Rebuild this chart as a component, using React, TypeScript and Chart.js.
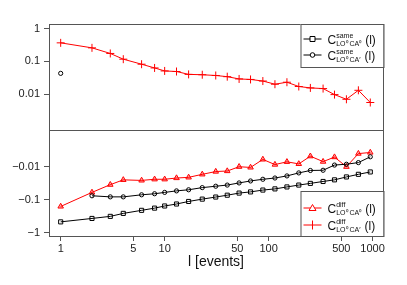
import React, { useEffect, useRef } from "react";
import { Chart, registerables } from "chart.js";

Chart.register(...registerables);

// l values (events)
const lValues = [1, 2, 3, 4, 6, 8, 10, 13, 17, 23, 31, 40, 52, 67, 88, 115, 150, 195, 252, 334, 430, 560, 730, 950];

// C^same_{LO0 CA0}(l)
const sameCA0 = [-0.47, -0.37, -0.32, -0.26, -0.21, -0.18, -0.155, -0.135, -0.113, -0.096, -0.083, -0.073, -0.063, -0.058, -0.051, -0.047, -0.041, -0.036, -0.032, -0.028, -0.025, -0.0204, -0.017, -0.0144];
// C^same_{LO0 CA'}(l)
const sameCAp = [0.043, -0.076, -0.082, -0.082, -0.071, -0.066, -0.06, -0.054, -0.05, -0.043, -0.039, -0.036, -0.031, -0.027, -0.024, -0.022, -0.019, -0.0154, -0.013, -0.0128, -0.0089, -0.0084, -0.0075, -0.005];
// C^diff_{LO0 CA0}(l)
const diffCA0 = [-0.16, -0.06, -0.035, -0.025, -0.026, -0.024, -0.024, -0.022, -0.021, -0.017, -0.014, -0.0135, -0.01, -0.0105, -0.006, -0.0086, -0.0071, -0.0082, -0.0048, -0.007, -0.0051, -0.01, -0.004, -0.0037];
// C^diff_{LO0 CA'}(l)
const diffCAp = [0.37, 0.26, 0.175, 0.117, 0.082, 0.063, 0.051, 0.049, 0.04, 0.039, 0.037, 0.034, 0.029, 0.028, 0.025, 0.02, 0.023, 0.017, 0.0154, 0.0147, 0.0096, 0.0069, 0.013, 0.0055];

const xTicks = [1, 5, 10, 50, 100, 500, 1000];
const topTicks = [1, 0.1, 0.01];
const topTickLabels = ["1", "0.1", "0.01"];
const botTicks = [0.01, 0.1, 1];
const botTickLabels = ["\u22120.01", "\u22120.1", "\u22121"];

const FONT = "'Liberation Sans', Arial, Helvetica, sans-serif";
const FRAME = "#555555";
const RED = "#ff0000";

const posPart = (arr: number[]) => arr.map((v, i) => ({ x: lValues[i], y: v > 0 ? v : null }));
const negPart = (arr: number[]) => arr.map((v, i) => ({ x: lValues[i], y: v < 0 ? -v : null }));

type LegendItem = { style: string; color: string; sup: string; sub: string };

const topLegend: LegendItem[] = [
  { style: "rect", color: "#000", sup: "same", sub: "LO\u2070 CA\u2070" },
  { style: "circle", color: "#000", sup: "same", sub: "LO\u2070 CA\u2032" },
];
const botLegend: LegendItem[] = [
  { style: "triangle", color: RED, sup: "diff", sub: "LO\u2070 CA\u2070" },
  { style: "cross", color: RED, sup: "diff", sub: "LO\u2070 CA\u2032" },
];

function drawMarker(ctx: CanvasRenderingContext2D, style: string, x: number, y: number, color: string) {
  ctx.save();
  ctx.strokeStyle = color;
  ctx.lineWidth = 1;
  ctx.beginPath();
  ctx.moveTo(x - 9, y);
  ctx.lineTo(x + 9, y);
  ctx.stroke();
  ctx.beginPath();
  if (style === "rect") {
    ctx.fillStyle = "#fff";
    ctx.rect(x - 2.5, y - 2.5, 5, 5);
    ctx.fill();
    ctx.stroke();
  } else if (style === "circle") {
    ctx.fillStyle = "#fff";
    ctx.arc(x, y, 2.3, 0, Math.PI * 2);
    ctx.fill();
    ctx.stroke();
  } else if (style === "triangle") {
    ctx.fillStyle = "#fff";
    ctx.moveTo(x, y - 3.5);
    ctx.lineTo(x + 3.5, y + 2.5);
    ctx.lineTo(x - 3.5, y + 2.5);
    ctx.closePath();
    ctx.fill();
    ctx.stroke();
  } else if (style === "cross") {
    ctx.moveTo(x, y - 4.5);
    ctx.lineTo(x, y + 4.5);
    ctx.stroke();
  }
  ctx.restore();
}

function drawLegend(ctx: CanvasRenderingContext2D, items: LegendItem[], left: number, top: number, right: number, bottom: number, rows: number[]) {
  ctx.save();
  ctx.fillStyle = "#fff";
  ctx.fillRect(left, top, right - left, bottom - top);
  ctx.strokeStyle = FRAME;
  ctx.lineWidth = 1;
  ctx.strokeRect(left + 0.5, top + 0.5, right - left, bottom - top);
  items.forEach((it, i) => {
    const cy = rows[i];
    drawMarker(ctx, it.style, left + 12, cy, it.color);
    ctx.fillStyle = "#111";
    ctx.textBaseline = "alphabetic";
    ctx.textAlign = "left";
    const cx = left + 27;
    ctx.font = `12px ${FONT}`;
    ctx.fillText("C", cx, cy + 5);
    const cw = ctx.measureText("C").width;
    ctx.font = `7px ${FONT}`;
    ctx.fillText(it.sup, cx + cw, cy - 1.5);
    const supW = ctx.measureText(it.sup).width;
    ctx.font = `7px ${FONT}`;
    ctx.fillText(it.sub, cx + cw, cy + 7);
    const subW = ctx.measureText(it.sub).width;
    ctx.font = `12px ${FONT}`;
    ctx.fillText("(l)", cx + cw + Math.max(supW, subW) + 4, cy + 5);
  });
  ctx.restore();
}

const framePlugin = {
  id: "frames",
  afterDraw(chart: any) {
    const ctx = chart.ctx as CanvasRenderingContext2D;
    const { left, right } = chart.chartArea;
    const yt = chart.scales.yTop;
    const yb = chart.scales.yBot;
    ctx.save();
    ctx.strokeStyle = FRAME;
    ctx.lineWidth = 1;
    const L = Math.round(left) + 0.5;
    const R = Math.round(right) + 0.5;
    ctx.strokeRect(L, Math.round(yt.top) + 0.5, R - L, Math.round(yt.bottom) - Math.round(yt.top));
    ctx.strokeRect(L, Math.round(yb.top) + 0.5, R - L, Math.round(yb.bottom) - Math.round(yb.top));
    ctx.restore();

    const lw = 83;
    drawLegend(ctx, topLegend, R - lw, Math.round(yt.top), R, Math.round(yt.top) + 43, [Math.round(yt.top) + 15, Math.round(yt.top) + 31]);
    drawLegend(ctx, botLegend, R - lw, Math.round(yb.bottom) - 45, R, Math.round(yb.bottom), [Math.round(yb.bottom) - 28, Math.round(yb.bottom) - 11]);

    // x-axis title
    ctx.save();
    ctx.fillStyle = "#111";
    ctx.font = `14px ${FONT}`;
    ctx.textAlign = "center";
    ctx.textBaseline = "middle";
    ctx.fillText("l [events]", (left + right) / 2, 262);
    ctx.restore();
  },
};

export default function App() {
  const ref = useRef<HTMLCanvasElement | null>(null);

  useEffect(() => {
    document.body.style.margin = "0";
    if (!ref.current) return;
    const common = { borderWidth: 1, showLine: true, spanGaps: false, pointBorderWidth: 1 };
    const chart = new Chart(ref.current, {
      type: "line",
      data: {
        datasets: [
          {
            ...common,
            label: "sameCA0",
            data: negPart(sameCA0),
            yAxisID: "yBot",
            borderColor: "#000",
            backgroundColor: "rgba(255,255,255,0)",
            pointStyle: "rect",
            pointRadius: 2.9,
          },
          {
            ...common,
            label: "sameCAp bottom",
            data: negPart(sameCAp),
            yAxisID: "yBot",
            borderColor: "#000",
            backgroundColor: "rgba(255,255,255,0)",
            pointStyle: "circle",
            pointRadius: 2.1,
          },
          {
            ...common,
            label: "sameCAp top",
            data: posPart(sameCAp),
            yAxisID: "yTop",
            borderColor: "#000",
            backgroundColor: "rgba(255,255,255,0)",
            pointStyle: "circle",
            pointRadius: 2.1,
          },
          {
            ...common,
            label: "diffCA0",
            data: negPart(diffCA0),
            yAxisID: "yBot",
            borderColor: RED,
            backgroundColor: "rgba(255,0,0,0.35)",
            pointStyle: "triangle",
            pointRadius: 3.2,
          },
          {
            ...common,
            label: "diffCAp",
            data: posPart(diffCAp),
            yAxisID: "yTop",
            borderColor: RED,
            backgroundColor: RED,
            pointStyle: "cross",
            pointRadius: 4,
          },
        ],
      },
      options: {
        animation: false,
        responsive: false,
        maintainAspectRatio: false,
        layout: { padding: { top: 24, right: 24, left: 0, bottom: 0 } },
        plugins: { legend: { display: false }, tooltip: { enabled: false }, title: { display: false } },
        scales: {
          x: {
            type: "logarithmic",
            min: 0.772,
            max: 1259,
            afterBuildTicks: (s: any) => {
              s.ticks = xTicks.map((v) => ({ value: v }));
            },
            afterFit: (s: any) => {
              s.height = 49;
            },
            ticks: {
              callback: (v: any) => String(v),
              font: { family: FONT, size: 11 },
              color: "#222",
              padding: 1,
              maxRotation: 0,
              autoSkip: false,
            },
            grid: { drawOnChartArea: false, drawTicks: true, tickLength: 5, color: FRAME },
            border: { display: false },
          },
          yBot: {
            type: "logarithmic",
            position: "left",
            stack: "panels",
            stackWeight: 1,
            weight: 1,
            reverse: true,
            min: 0.00077,
            max: 1.26,
            afterBuildTicks: (s: any) => {
              s.ticks = botTicks.map((v) => ({ value: v }));
            },
            afterFit: (s: any) => {
              s.width = 49;
            },
            ticks: {
              callback: (v: any) => botTickLabels[botTicks.indexOf(Number(v))] ?? "",
              font: { family: FONT, size: 11 },
              color: "#222",
              padding: 4,
              autoSkip: false,
            },
            grid: { drawOnChartArea: false, drawTicks: true, tickLength: 5, color: FRAME },
            border: { display: false },
          },
          yTop: {
            type: "logarithmic",
            position: "left",
            stack: "panels",
            stackWeight: 1,
            weight: 2,
            min: 0.00079,
            max: 1.4,
            afterBuildTicks: (s: any) => {
              s.ticks = topTicks.map((v) => ({ value: v }));
            },
            afterFit: (s: any) => {
              s.width = 49;
            },
            ticks: {
              callback: (v: any) => topTickLabels[topTicks.indexOf(Number(v))] ?? "",
              font: { family: FONT, size: 11 },
              color: "#222",
              padding: 4,
              autoSkip: false,
            },
            grid: { drawOnChartArea: false, drawTicks: true, tickLength: 5, color: FRAME },
            border: { display: false },
          },
        },
      } as any,
      plugins: [framePlugin],
    });
    return () => chart.destroy();
  }, []);

  return (
    <div style={{ width: 407, height: 285, background: "#fff" }}>
      <canvas ref={ref} width={407} height={285} style={{ width: 407, height: 285, display: "block" }} />
    </div>
  );
}
